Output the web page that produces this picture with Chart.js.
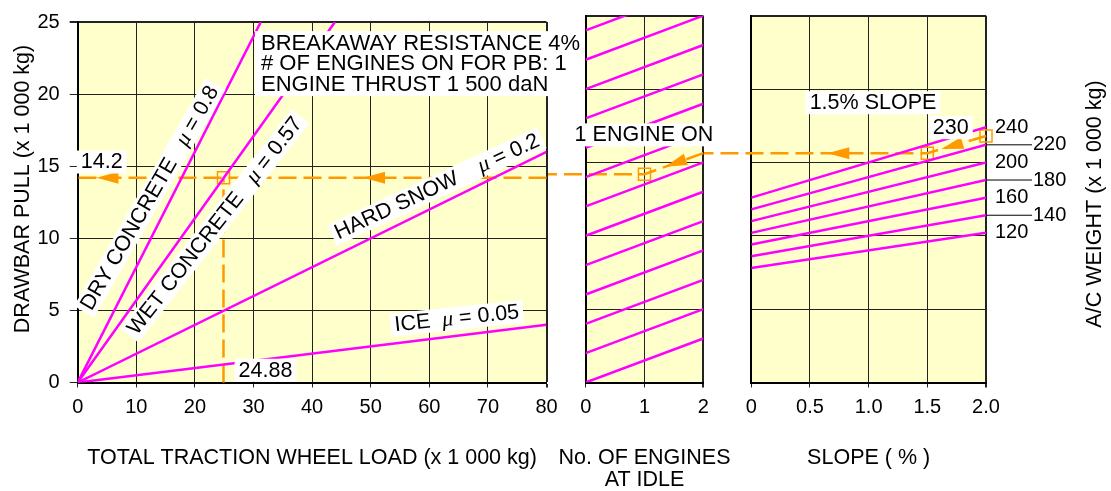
<!DOCTYPE html>
<html>
<head>
<meta charset="utf-8">
<title>Drawbar pull</title>
<script src="https://cdn.jsdelivr.net/npm/chart.js@4.4.1/dist/chart.umd.min.js"></script>
<style>
  html, body { margin: 0; padding: 0; background: #fff; }
  #board { position: relative; width: 1111px; height: 491px; overflow: hidden; }
  #board canvas { position: absolute; left: 0; top: 0; }
</style>
</head>
<body>
<div id="board">
  <canvas id="slopeChart" width="1111" height="491"></canvas>
  <canvas id="idleChart" width="1111" height="491"></canvas>
  <canvas id="pullChart" width="1111" height="491"></canvas>
</div>
<script>
// ---- values ----
const pullTicks = [0, 5, 10, 15, 20, 25];
const loadTicks = [0, 10, 20, 30, 40, 50, 60, 70, 80];
const engineTicks = [0, 1, 2];
const slopeTickValues = [0, 0.5, 1, 1.5, 2];
const slopeTickLabels = ['0', '0.5', '1.0', '1.5', '2.0'];

// friction lines: from the origin to where each one leaves the grid
const surfaceNames = ['DRY CONCRETE', 'WET CONCRETE', 'HARD SNOW', 'ICE'];
const surfaceMu = ['0.8', '0.57', '0.2', '0.05'];
const surfaceEndLoad = [31.25, 43.9, 80, 80];
const surfaceEndPull = [25, 25, 16, 4];

// engines at idle: pull at 0 and at 2 engines
const idlePullAt0 = [0, 2, 4, 6, 8, 10, 12, 14, 16, 18, 20, 22, 24];
const idlePullAt2 = [3, 5, 7, 9, 11, 13, 15, 17, 19, 21, 23, 25, 27];

// aircraft weight lines: pull at 0 % and at 2 % slope
const weights = [120, 140, 160, 180, 200, 220, 240];
const weightPullAt0 = [7.8, 8.6, 9.4, 10.2, 11.0, 11.8, 12.6];
const weightPullAt2 = [10.2, 11.4, 12.6, 13.8, 15.0, 16.2, 17.4];

// worked example (orange)
const exWeight = 230;
const exSlope = 1.5;
const exEngines = 1;
const exPullMaxSlope = 16.8;
const exPullSlope = 15.63;
const exPull = 14.2;
const exLoad = 24.88;

// ---- styles ----
const PAPER = '#ffffcc', INK = '#000000', GRID = '#222222';
const MAGENTA = '#ff00ff', ORANGE = '#ff9900';
const SANS = '"Liberation Sans", Arial, Helvetica, sans-serif';
const TEXT_FONT = '21.5px ' + SANS;
Chart.defaults.font.family = SANS;
Chart.defaults.color = INK;

const pts = pairs => pairs.map(([x, y]) => ({ x, y }));

function magentaLine(pairs) {
    return { data: pts(pairs), borderColor: MAGENTA, borderWidth: 2.5, pointRadius: 0, showLine: true, clip: 0 };
}
function guideLine(pairs) {
    return { data: pts(pairs), borderColor: ORANGE, borderWidth: 2.5, borderDash: [18, 7],
             pointRadius: 0, showLine: true, clip: false };
}
function markers(pairs) {
    return { data: pts(pairs), showLine: false, clip: false, pointStyle: 'rect', pointRadius: 8.5,
             pointBorderColor: ORANGE, pointBackgroundColor: 'rgba(0,0,0,0)', pointBorderWidth: 1.5 };
}

// thicker line on the far edges so the panel looks boxed
const edgeWidth = max => c => (c.tick && c.tick.value === max) ? 2 : 1;

function xScale(min, max, ticks, title, labels) {
    return {
        type: 'linear', min, max,
        afterBuildTicks: s => { s.ticks = ticks.map(v => ({ value: v })); },
        afterFit: s => { s.height = 108.5; },
        grid: { color: GRID, lineWidth: edgeWidth(max), tickLength: 5 },
        border: { color: INK, width: 2 },
        ticks: { font: { size: 20 }, color: INK, padding: 7.5, maxRotation: 0, autoSkip: false,
                 callback: (v, i) => labels ? labels[i] : String(v) },
        title: { display: !!title, text: title || '', color: INK, font: { size: 21.5, lineHeight: 1.05 },
                 padding: { top: 0, bottom: 22 } }
    };
}
function yScale(withLabels) {
    return {
        type: 'linear', min: 0, max: 25,
        afterBuildTicks: s => { s.ticks = pullTicks.map(v => ({ value: v })); },
        afterFit: s => { s.width = withLabels ? 77.7 : 0; },
        grid: { color: GRID, lineWidth: edgeWidth(25), tickLength: 8, drawTicks: withLabels },
        border: { color: INK, width: 2 },
        ticks: { display: withLabels, font: { size: 20 }, color: INK, padding: 10 }
    };
}

// ---- drawing helpers for the printed annotations ----
function drawArrow(ctx, fx, fy, tx, ty) {
    const len = Math.hypot(tx - fx, ty - fy), ux = (tx - fx) / len, uy = (ty - fy) / len;
    const bx = tx - ux * 22, by = ty - uy * 22;
    ctx.fillStyle = ORANGE;
    ctx.beginPath();
    ctx.moveTo(tx, ty);
    ctx.lineTo(bx - uy * 6, by + ux * 6);
    ctx.lineTo(bx + uy * 6, by - ux * 6);
    ctx.closePath();
    ctx.fill();
}

function drawTag(ctx, parts, cx, cy, angle) {
    ctx.save();
    ctx.translate(cx, cy);
    ctx.rotate(-angle * Math.PI / 180);
    const sized = parts.map(p => { ctx.font = p.font; return { ...p, w: ctx.measureText(p.text).width }; });
    const w = sized.reduce((s, p) => s + p.w, 0);
    ctx.fillStyle = '#fff';
    ctx.fillRect(-w / 2 - 4, -11.5, w + 8, 23);
    ctx.fillStyle = INK;
    ctx.textBaseline = 'middle';
    ctx.textAlign = 'left';
    let x = -w / 2;
    sized.forEach(p => { ctx.font = p.font; ctx.fillText(p.text, x, 0.5); x += p.w; });
    ctx.restore();
}

function drawNote(ctx, lines, left, firstY, step) {
    ctx.font = '22px ' + SANS;
    const w = Math.max(...lines.map(l => ctx.measureText(l).width));
    ctx.fillStyle = '#fff';
    ctx.fillRect(left - 6, firstY - 12.8, w + 8, (lines.length - 1) * step + 24);
    ctx.fillStyle = INK;
    ctx.textBaseline = 'middle';
    ctx.textAlign = 'left';
    lines.forEach((l, i) => ctx.fillText(l, left, firstY + i * step));
}

function drawSideTitle(ctx, t) {
    ctx.save();
    ctx.translate(t.x, t.y);
    ctx.rotate(-Math.PI / 2);
    ctx.font = TEXT_FONT;
    ctx.fillStyle = INK;
    ctx.textAlign = 'center';
    ctx.textBaseline = 'middle';
    ctx.fillText(t.text, 0, 0);
    ctx.restore();
}

const plain = t => ({ text: t, font: TEXT_FONT });
const mu = () => ({ text: 'μ', font: 'italic 22px "Liberation Serif", serif' });

function panelPlugin(deco) {
    return {
        id: 'panel',
        beforeDraw(chart) {
            const { ctx, chartArea: a } = chart;
            ctx.save();
            ctx.fillStyle = PAPER;
            ctx.fillRect(a.left, a.top, a.right - a.left, a.bottom - a.top);
            ctx.restore();
        },
        afterDatasetsDraw(chart) {
            const ctx = chart.ctx, xs = chart.scales.x, ys = chart.scales.y, a = chart.chartArea;
            const px = v => xs.getPixelForValue(v), py = v => ys.getPixelForValue(v);
            ctx.save();
            (deco.arrows || []).forEach(r => drawArrow(ctx, px(r.from[0]), py(r.from[1]), px(r.to[0]), py(r.to[1])));
            (deco.tags || []).forEach(t => drawTag(ctx, t.parts, px(t.x), py(t.y), t.angle || 0));
            (deco.labels || []).forEach(l => drawTag(ctx, [plain(l.text)], px(l.x), py(l.y), 0));
            if (deco.note) drawNote(ctx, deco.note.lines, px(deco.note.x), py(deco.note.y), 20.5);
            if (deco.sideTitle) drawSideTitle(ctx, deco.sideTitle);
            if (deco.bottomTitle) {
                // two-line axis title, wider than its panel
                ctx.font = TEXT_FONT;
                ctx.fillStyle = INK;
                ctx.textAlign = 'center';
                ctx.textBaseline = 'middle';
                deco.bottomTitle.lines.forEach((l, i) => ctx.fillText(l, (a.left + a.right) / 2, deco.bottomTitle.y + i * 22));
            }
            if (deco.after) deco.after(chart, px, py);
            ctx.restore();
        }
    };
}

function baseOptions(padding, scales) {
    return {
        responsive: false, animation: false, events: [],
        layout: { padding },
        plugins: { legend: { display: false }, tooltip: { enabled: false } },
        scales
    };
}

// ---- left panel: drawbar pull vs wheel load ----
const tagSpots = [[12.3, 12.8, 60], [23.4, 10.86, 52], [61.3, 13.59, 25], [64.7, 4.45, 6]];
const tagGaps = ['   ', '   ', '    ', '  '];

new Chart(document.getElementById('pullChart'), {
    type: 'scatter',
    data: {
        datasets: [
            ...surfaceNames.map((n, i) => magentaLine([[0, 0], [surfaceEndLoad[i], surfaceEndPull[i]]])),
            guideLine([[80, exPull], [0, exPull]]),
            guideLine([[exLoad, 0], [exLoad, exPull]]),
            markers([[exLoad, exPull]])
        ]
    },
    options: baseOptions({ left: 0, top: 15.7, right: 564.5, bottom: 0 }, {
        x: xScale(0, 80, loadTicks, 'TOTAL TRACTION WHEEL LOAD (x 1 000 kg)'),
        y: yScale(true)
    }),
    plugins: [panelPlugin({
        arrows: [{ from: [8, exPull], to: [3.2, exPull] }, { from: [53, exPull], to: [48.7, exPull] }],
        tags: surfaceNames.map((n, i) => ({
            x: tagSpots[i][0], y: tagSpots[i][1], angle: tagSpots[i][2],
            parts: [plain(n + tagGaps[i]), mu(), plain(' = ' + surfaceMu[i])]
        })),
        labels: [{ x: 4.1, y: 15.29, text: exPull.toFixed(1) }, { x: 32.05, y: 0.85, text: String(exLoad) }],
        note: { x: 31.28, y: 23.48, lines: ['BREAKAWAY RESISTANCE 4%', '# OF ENGINES ON FOR PB: 1', 'ENGINE THRUST 1 500 daN'] },
        sideTitle: { text: 'DRAWBAR PULL (x 1 000 kg)', x: 23, y: 189 }
    })]
});

// ---- middle panel: number of engines at idle ----
const gapToLoadPanel = -0.67;   // guide runs on across the gap
new Chart(document.getElementById('idleChart'), {
    type: 'scatter',
    data: {
        datasets: [
            ...idlePullAt0.map((v, i) => magentaLine([[0, v], [2, idlePullAt2[i]]])),
            guideLine([[2, exPullSlope], [exEngines, exPull], [gapToLoadPanel, exPull]]),
            markers([[exEngines, exPull]])
        ]
    },
    options: baseOptions({ left: 585.7, top: 15.7, right: 407.7, bottom: 0 }, {
        x: xScale(0, 2, engineTicks, null),
        y: yScale(false)
    }),
    plugins: [panelPlugin({
        arrows: [{ from: [2, exPullSlope], to: [1.35, 14.7] }],
        labels: [{ x: 0.99, y: 16.88, text: exEngines + ' ENGINE ON' }],
        bottomTitle: { lines: ['No. OF ENGINES', 'AT IDLE'], y: 458 }
    })]
});

// ---- right panel: slope and aircraft weight ----
const gapToIdlePanel = -0.41;
new Chart(document.getElementById('slopeChart'), {
    type: 'scatter',
    data: {
        datasets: [
            ...weights.map((w, i) => magentaLine([[0, weightPullAt0[i]], [2, weightPullAt2[i]]])),
            guideLine([[2, exPullMaxSlope], [exSlope, exPullSlope], [gapToIdlePanel, exPullSlope]]),
            markers([[2, exPullMaxSlope], [exSlope, exPullSlope]])
        ]
    },
    options: baseOptions({ left: 751.3, top: 15.7, right: 125, bottom: 0 }, {
        x: xScale(0, 2, slopeTickValues, 'SLOPE ( % )', slopeTickLabels),
        y: yScale(false)
    }),
    plugins: [panelPlugin({
        arrows: [{ from: [1.0, exPullSlope], to: [0.648, exPullSlope] }, { from: [2, exPullMaxSlope], to: [1.62, 15.91] }],
        labels: [{ x: 1.037, y: 19.07, text: exSlope + '% SLOPE' }, { x: 1.70, y: 17.37, text: String(exWeight) }],
        sideTitle: { text: 'A/C WEIGHT (x 1 000 kg)', x: 1095, y: 204 },
        after(chart, px, py) {
            const ctx = chart.ctx, right = chart.chartArea.right;
            ctx.font = '20px ' + SANS;
            ctx.textBaseline = 'middle';
            ctx.textAlign = 'left';
            ctx.fillStyle = INK;
            ctx.strokeStyle = INK;
            ctx.lineWidth = 1;
            weights.forEach((w, i) => {
                const y = py(weightPullAt2[i]);
                if (i % 2) {
                    ctx.beginPath();
                    ctx.moveTo(right, y);
                    ctx.lineTo(right + 46, y);
                    ctx.stroke();
                    ctx.fillText(String(w), right + 47, y);
                } else {
                    ctx.fillText(String(w), right + 9, y);
                }
            });
        }
    })]
});
</script>
</body>
</html>
